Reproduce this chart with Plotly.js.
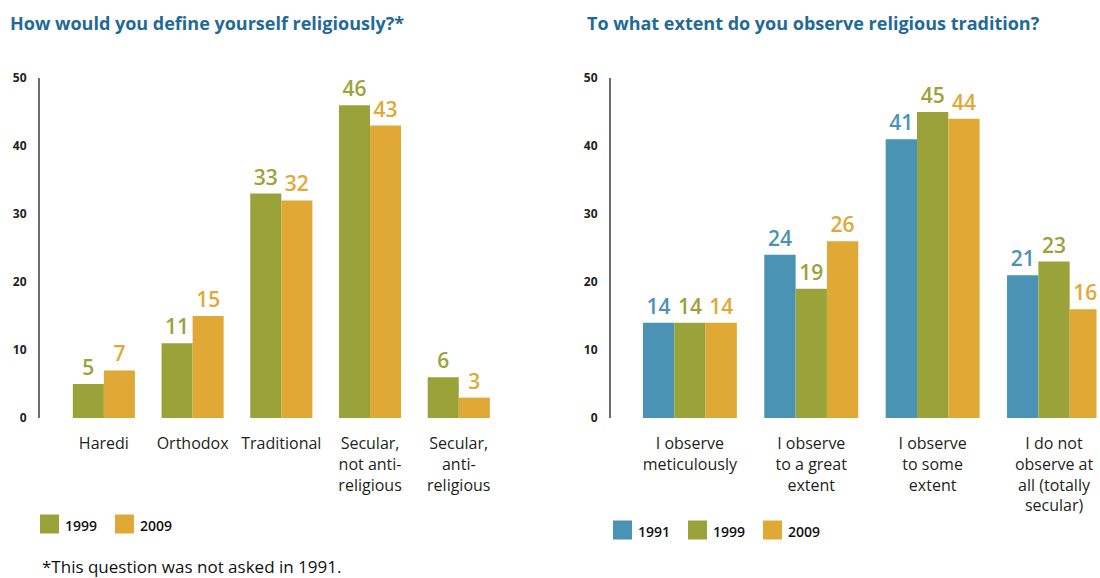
<!DOCTYPE html>
<html><head><meta charset="utf-8">
<script src="https://cdn.plot.ly/plotly-3.0.1.min.js"></script>
<style>html,body{margin:0;padding:0;background:#fff;}#chart{width:1100px;height:578px;}</style>
</head><body><div id="chart"></div>
<script>
// Left chart data
const leftTitle = "How would you define yourself religiously?*";
const leftCategories = ["Haredi", "Orthodox", "Traditional", "Secular,<br>not anti-<br>religious", "Secular,<br>anti-<br>religious"];
const leftSeriesNames = ["1999", "2009"];
const left1999 = [5, 11, 33, 46, 6];
const left2009 = [7, 15, 32, 43, 3];

// Right chart data
const rightTitle = "To what extent do you observe religious tradition?";
const rightCategories = ["I observe<br>meticulously", "I observe<br>to a great<br>extent", "I observe<br>to some<br>extent", "I do not<br>observe at<br>all (totally<br>secular)"];
const rightSeriesNames = ["1991", "1999", "2009"];
const right1991 = [14, 24, 41, 21];
const right1999 = [14, 19, 45, 23];
const right2009 = [14, 26, 44, 16];

const yTicks = [0, 10, 20, 30, 40, 50];
const footnote = "*This question was not asked in 1991.";

const COLORS = {"1991": "#4a93b5", "1999": "#9aa33a", "2009": "#e0a935"};
const W = 1100, H = 578;
const FONT = "Open Sans, Noto Sans, sans-serif";
const px = x => x / W;
const py = y => (H - y) / H;

function barTrace(name, cats, vals, xa, ya, width, offset) {
  return {
    type: "bar", name: name, x: cats, y: vals, xaxis: xa, yaxis: ya,
    width: width, offset: offset,
    marker: {color: COLORS[name], line: {width: 0}},
    texttemplate: "%{y}", textposition: "outside", constraintext: "none", cliponaxis: false,
    textfont: {color: COLORS[name], size: 21, family: FONT, weight: 600},
    showlegend: false, hoverinfo: "x+y"
  };
}

const lw = 0.35;
const rw = 0.258;
const data = [
  barTrace(leftSeriesNames[0], leftCategories, left1999, "x", "y", lw, -lw),
  barTrace(leftSeriesNames[1], leftCategories, left2009, "x", "y", lw, 0),
  barTrace(rightSeriesNames[0], rightCategories, right1991, "x2", "y2", rw, -1.5 * rw),
  barTrace(rightSeriesNames[1], rightCategories, right1999, "x2", "y2", rw, -0.5 * rw),
  barTrace(rightSeriesNames[2], rightCategories, right2009, "x2", "y2", rw, 0.5 * rw)
];

const yDomain = [py(418), py(78)];
const yAxisCommon = {
  range: [0, 50], tickvals: yTicks, ticktext: yTicks.map(String),
  showgrid: false, zeroline: false, showline: true, linecolor: "#6d6d6d", linewidth: 2,
  ticks: "", ticklabelstandoff: 9,
  tickfont: {family: FONT, size: 12, color: "#222", weight: 700},
  domain: yDomain, fixedrange: true
};
const xAxisCommon = {
  type: "category", showgrid: false, zeroline: false, showline: false, ticks: "",
  tickfont: {family: FONT, size: 16, color: "#231f20"},
  ticklabelstandoff: 14, fixedrange: true, tickangle: 0
};

const annotations = [
  {text: leftTitle, x: px(8), y: py(23), xref: "paper", yref: "paper", xanchor: "left", yanchor: "middle", showarrow: false,
   font: {family: FONT, size: 18, color: "#1f6a96", weight: 700}},
  {text: rightTitle, x: px(585), y: py(23), xref: "paper", yref: "paper", xanchor: "left", yanchor: "middle", showarrow: false,
   font: {family: FONT, size: 18, color: "#1f6a96", weight: 700}},
  {text: footnote, x: px(40), y: py(566), xref: "paper", yref: "paper", xanchor: "left", yanchor: "middle", showarrow: false,
   font: {family: FONT, size: 17, color: "#111"}}
];
const shapes = [];

function addLegend(names, startX, yCenter, step) {
  names.forEach((n, i) => {
    const x0 = startX + i * step;
    shapes.push({type: "rect", xref: "paper", yref: "paper", x0: px(x0), x1: px(x0 + 19),
      y0: py(yCenter + 9.5), y1: py(yCenter - 9.5), fillcolor: COLORS[n], line: {width: 0}});
    annotations.push({text: n, x: px(x0 + 23), y: py(yCenter + 1), xref: "paper", yref: "paper",
      xanchor: "left", yanchor: "middle", showarrow: false,
      font: {family: FONT, size: 14, color: "#111", weight: 600}});
  });
}
addLegend(leftSeriesNames, 40, 524, 75);
addLegend(rightSeriesNames, 613, 530, 75);

const layout = {
  width: W, height: H, margin: {l: 0, r: 0, t: 0, b: 0},
  paper_bgcolor: "#fff", plot_bgcolor: "#fff",
  barmode: "overlay", showlegend: false,
  xaxis: Object.assign({}, xAxisCommon, {domain: [px(40), px(512)], range: [-0.72, 4.6], anchor: "y"}),
  yaxis: Object.assign({}, yAxisCommon, {anchor: "x"}),
  xaxis2: Object.assign({}, xAxisCommon, {domain: [px(611), px(1096.5)], range: [-0.65, 3.35], anchor: "y2"}),
  yaxis2: Object.assign({}, yAxisCommon, {anchor: "x2"}),
  annotations: annotations, shapes: shapes,
  font: {family: FONT}
};

Plotly.newPlot("chart", data, layout, {staticPlot: true, displayModeBar: false});
</script></body></html>
